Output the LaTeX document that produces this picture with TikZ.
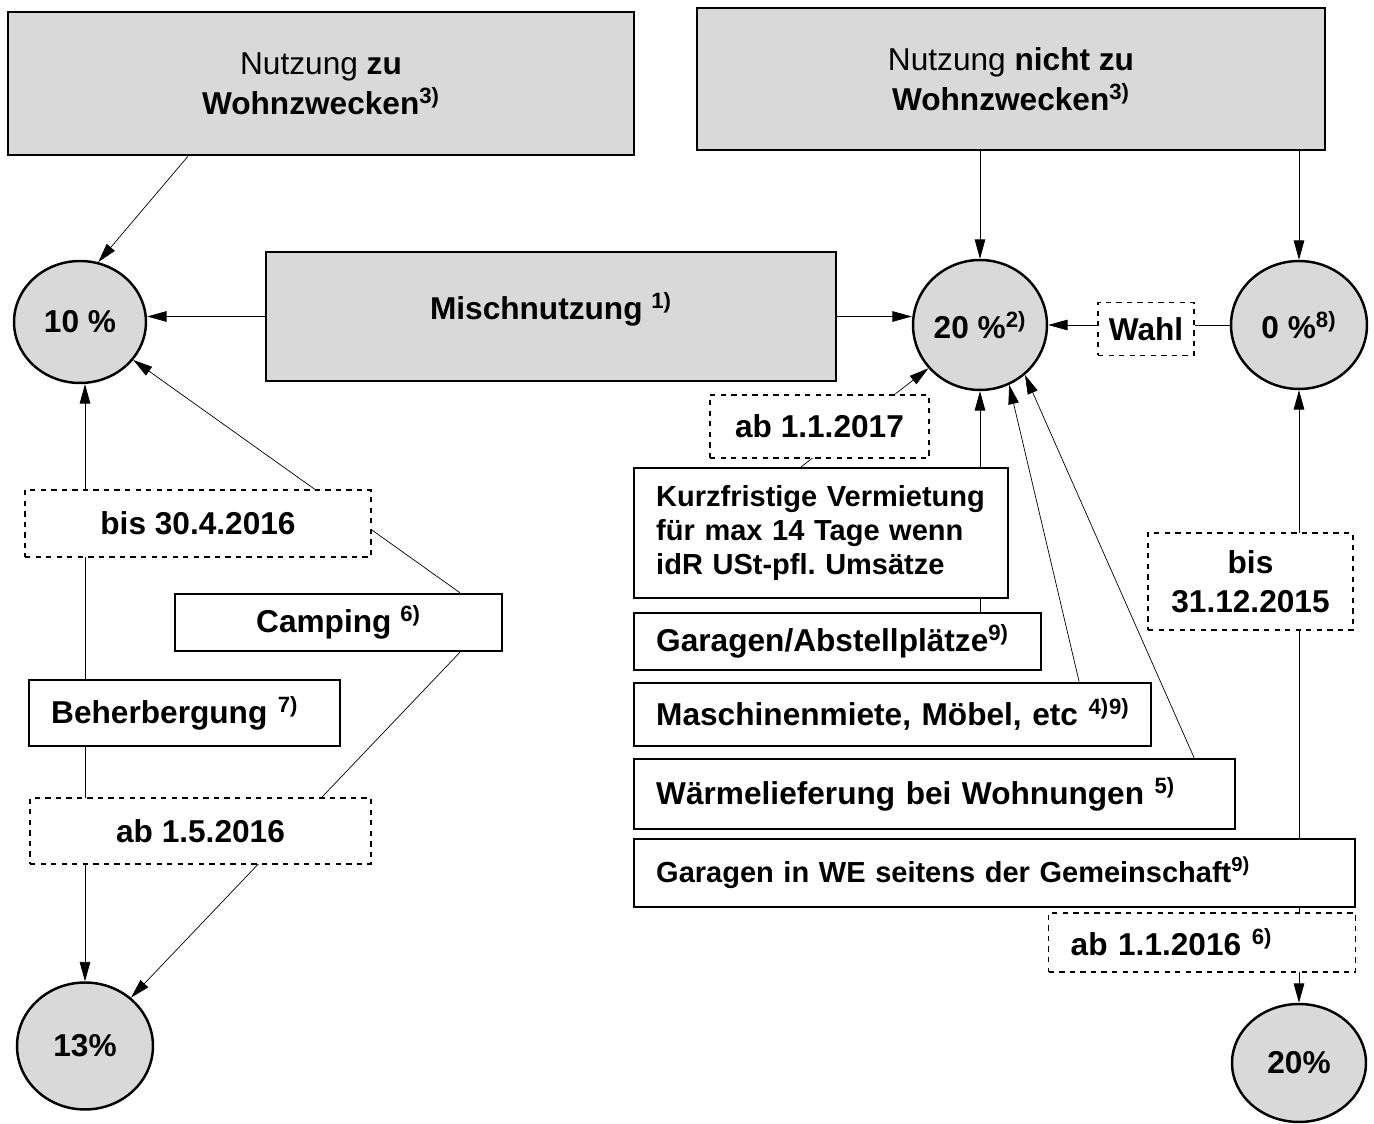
\documentclass[tikz,border=0pt]{standalone}
\usepackage{fontspec}
\setmainfont{Liberation Sans}
\usetikzlibrary{arrows.meta,shapes.geometric,backgrounds}
\newcommand{\fnote}[1]{\textsuperscript{#1)}}
\frenchspacing

\begin{document}
\begin{tikzpicture}[x=0.02cm,y=-0.02cm,>={Triangle[length=11pt,width=6pt]},
  big/.style={font=\fontsize{18}{21}\selectfont\bfseries},
  small/.style={font=\fontsize{16.5}{19.5}\selectfont\bfseries},
  shaded/.style={draw,line width=1.4pt,fill=black!15,align=center,inner sep=0pt,big},
  rate/.style={ellipse,draw,line width=1.4pt,fill=black!15,inner sep=0pt,big},
  plainbox/.style={draw,line width=1.4pt,fill=white,inner sep=0pt,align=center,big},
  leftbox/.style={draw,line width=1.4pt,fill=white,inner xsep=0.44cm,inner ysep=0pt,align=left,anchor=west,big},
  datebox/.style={draw,dashed,line width=0.8pt,fill=white,inner sep=0pt,align=center,big},
  link/.style={line width=1pt}]
  \useasboundingbox (0,0) rectangle (1374,1124);

  % top row
  \node[shaded,minimum width=12.52cm,minimum height=2.86cm] (wohn) at (321,83.5)
    {\\[-8pt]{\mdseries Nutzung} zu\\[2pt]Wohnzwecken\fnote{3}};
  \node[shaded,minimum width=12.56cm,minimum height=2.84cm] (nwohn) at (1011,79)
    {\\[-8pt]{\mdseries Nutzung} nicht zu\\[2pt]Wohnzwecken\fnote{3}};
  \node[shaded,minimum width=11.4cm,minimum height=2.58cm] (misch) at (551,316.5) {\raisebox{12pt}{Mischnutzung \fnote{1}}};

  % rates
  \node[rate,minimum width=2.64cm,minimum height=2.44cm] (c10) at (80,322) {10 \%};
  \node[rate,minimum width=2.68cm,minimum height=2.6cm] (c20) at (980,325) {20 \%\fnote{2}};
  \node[rate,minimum width=2.72cm,minimum height=2.56cm] (c0) at (1299,325) {0 \%\fnote{8}};
  \node[rate,minimum width=2.72cm,minimum height=2.54cm] (c13) at (85,1046) {13\%};
  \node[rate,minimum width=2.68cm,minimum height=2.36cm] (c20b) at (1299,1063) {20\%};
  \node[datebox,minimum width=1.92cm,minimum height=1.06cm] (wahl) at (1146,329) {Wahl};

  % left side
  \node[datebox,minimum width=6.92cm,minimum height=1.34cm] (bis16) at (198,523.5) {bis 30.4.2016};
  \node[plainbox,minimum width=6.54cm,minimum height=1.14cm] (camp) at (338.5,622.5) {Camping \fnote{6}};
  \node[leftbox,text width=5.34cm,minimum height=1.32cm] (beh) at (28,713) {Beherbergung \fnote{7}};
  \node[datebox,minimum width=6.82cm,minimum height=1.32cm] (ab16) at (200.5,831) {ab 1.5.2016};

  % right side
  \node[datebox,minimum width=4.38cm,minimum height=1.26cm] (ab17) at (819.5,426.5) {ab 1.1.2017};
  \node[leftbox,small,text width=6.6cm,minimum height=2.6cm] (kurz) at (633,533)
    {Kurzfristige Vermietung\\für max 14 Tage wenn\\idR USt-pfl. Umsätze};
  \node[leftbox,text width=7.26cm,minimum height=1.14cm] (garab) at (633,641.5) {\mbox{Garagen/Abstellplätze\fnote{9}}};
  \node[leftbox,text width=9.46cm,minimum height=1.26cm] (masch) at (633,714.5) {\mbox{Maschinenmiete, Möbel, etc \fnote{4}\fnote{9}}};
  \node[leftbox,text width=11.14cm,minimum height=1.4cm] (warme) at (633,794) {\mbox{Wärmelieferung bei Wohnungen \fnote{5}}};
  \node[leftbox,small,text width=13.54cm,minimum height=1.36cm] (garwe) at (633,873) {\mbox{Garagen in WE seitens der Gemeinschaft\fnote{9}}};
  \node[datebox,minimum width=4.1cm,minimum height=1.94cm] (bis15) at (1250.5,581.5) {bis\\[1pt]31.12.2015};
  \node[leftbox,dashed,line width=0.8pt,text width=5.26cm,minimum height=1.18cm] (ab16b) at (1048,942.5) {ab 1.1.2016 \fnote{6}};

  \begin{scope}[on background layer,link]
    \draw[->] ([xshift=-2.66cm]wohn.south) -- (c10.73);
    \draw[->] (misch.west) -- (misch.west -| c10.east);
    \draw[->] (misch.east) -- (misch.east -| c20.west);
    \draw[->] (nwohn.south -| c20.north) -- (c20.north);
    \draw[->] (nwohn.south -| c0.north) -- (c0.north);
    \draw (c0.west) -- (c0.west -| wahl.east);
    \draw[->] (c20.east -| wahl.west) -- (c20.east);
    % left column
    \draw[->] (beh.north -| c13.north) -- (c10.south -| c13.north);
    \draw[->] (beh.south -| c13.north) -- (c13.north);
    \draw[->] ([xshift=2.43cm]camp.north) -- (c10);
    \draw[->] ([xshift=2.43cm]camp.south) -- (c13);
    % into 20 %
    \draw[->] ([xshift=-0.4cm]kurz.north) -- (c20.220);
    \draw[->] (garab.north -| c20.south) -- (c20.south);
    \draw[->] ([xshift=3.73cm]masch.north) -- (c20.296);
    \draw[->] ([xshift=5.19cm]warme.north) -- (c20.312);
    % garages in WE
    \draw[->] (garwe.north -| c0.south) -- (c0.south);
    \draw[->] (garwe.south -| c20b.north) -- (c20b.north);
  \end{scope}
\end{tikzpicture}
\end{document}
